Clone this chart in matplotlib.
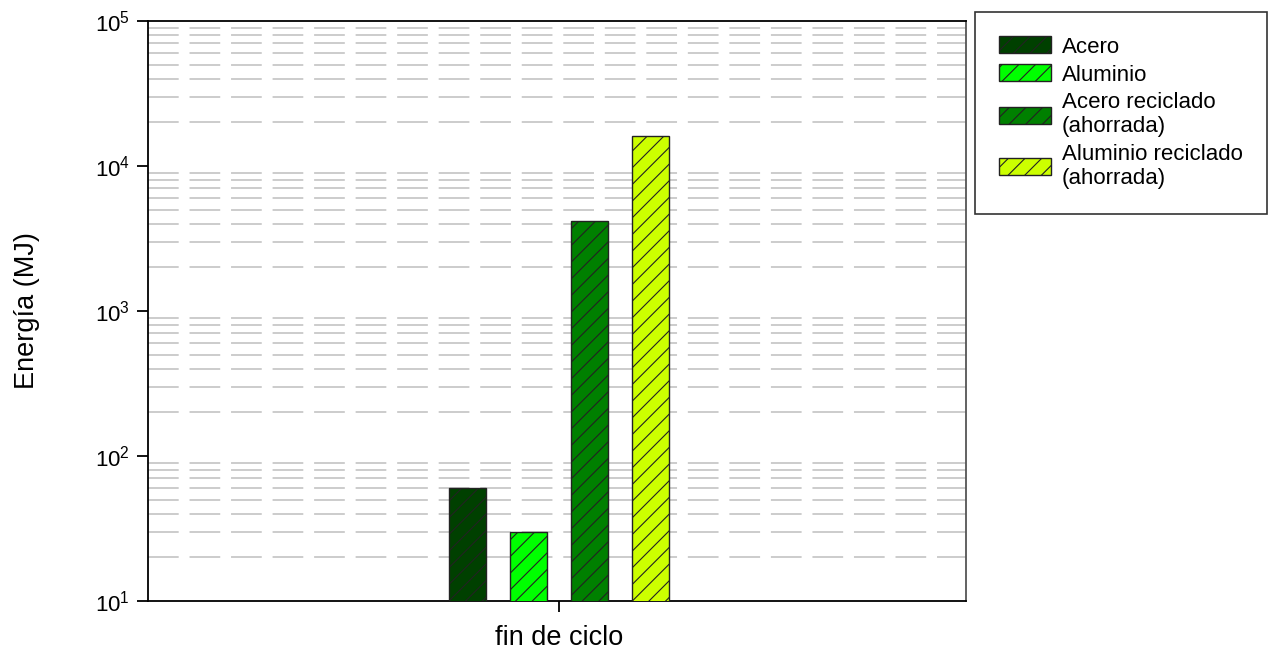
import matplotlib.pyplot as plt
import numpy as np

plt.rcParams['font.family'] = ['Liberation Sans', 'DejaVu Sans']
plt.rcParams['mathtext.fontset'] = 'custom'
plt.rcParams['mathtext.rm'] = 'Liberation Sans'
plt.rcParams['mathtext.it'] = 'Liberation Sans'
plt.rcParams['hatch.linewidth'] = 0.8

# Energy at end of life cycle (MJ)
series = ['Acero', 'Aluminio', 'Acero reciclado\n(ahorrada)', 'Aluminio reciclado\n(ahorrada)']
energia = [60, 30, 4200, 16000]
colores = ['#004000', '#00ff00', '#008000', '#ccff00']
categoria = 'fin de ciclo'

fig = plt.figure(figsize=(12.72, 6.52), dpi=100)
ax = fig.add_axes([148 / 1272, 51 / 652, 818 / 1272, 580 / 652])

offsets = np.array([-1.5, -0.5, 0.5, 1.5])
for off, val, col, lab in zip(offsets, energia, colores, series):
    ax.bar(off, val, width=0.6, color=col, edgecolor='#222222',
           linewidth=1, hatch='//', label=lab, zorder=3)

ax.set_yscale('log')
ax.set_ylim(10, 1e5)
ax.set_xlim(-6.74, 6.67)

# dashed minor gridlines only
ax.yaxis.grid(True, which='minor', color='#c8c8c8', linestyle=(0, (17, 6)), linewidth=1.3, zorder=0)
ax.yaxis.grid(False, which='major')
ax.tick_params(axis='y', which='minor', length=0)
ax.tick_params(axis='y', which='major', direction='out', length=8, width=1.3, labelsize=16, pad=5)
ax.set_xticks([0])
ax.set_xticklabels([categoria], fontsize=19.5)
ax.tick_params(axis='x', direction='out', length=8, width=1.3, pad=9)

for s in ax.spines.values():
    s.set_linewidth(1.3)
ax.spines['right'].set_color('#555555')

ax.set_ylabel('Energía (MJ)', fontsize=19.5)
ax.yaxis.set_label_coords(-(148 - 40) / 818, 0.5)

leg = fig.legend(loc='upper left', bbox_to_anchor=(975 / 1272, 1 - 12 / 652),
                 fontsize=16, frameon=True, fancybox=False, edgecolor='black',
                 handlelength=2.3, handleheight=0.8, labelspacing=0.3,
                 borderpad=1.1, handletextpad=0.5, borderaxespad=0)
leg.get_frame().set_linewidth(1.2)

fig.savefig('out.png', dpi=100)
